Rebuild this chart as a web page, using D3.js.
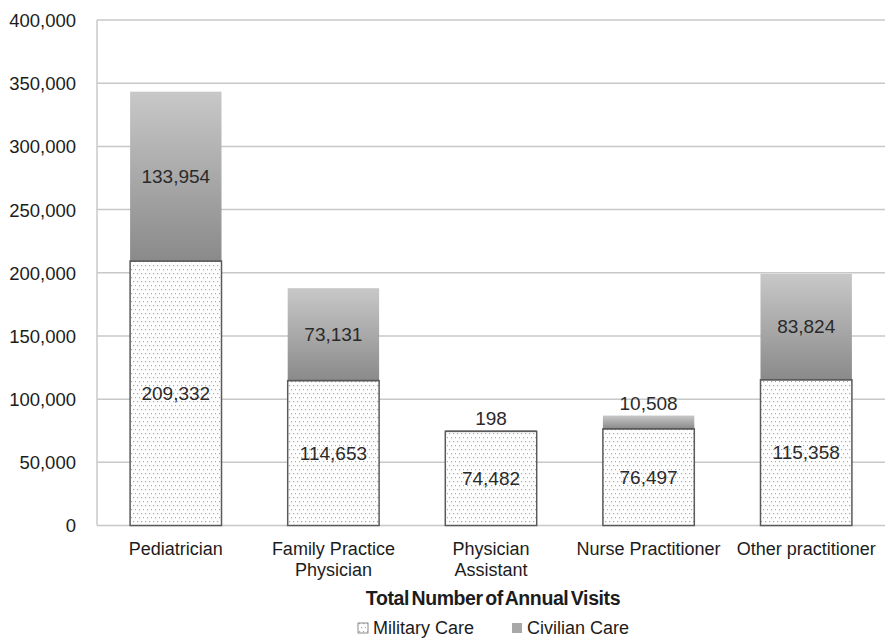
<!DOCTYPE html>
<html>
<head>
<meta charset="utf-8">
<script src="https://cdn.jsdelivr.net/npm/d3@7"></script>
<style>
  html, body { margin: 0; padding: 0; background: #fff; }
  svg { display: block; font-family: "Liberation Sans", Arial, sans-serif; }
</style>
</head>
<body>
<svg id="chart" width="885" height="640"></svg>
<script>
// Annual visits by provider type, split into military and civilian care
const categories = [
  ["Pediatrician"],
  ["Family Practice", "Physician"],
  ["Physician", "Assistant"],
  ["Nurse Practitioner"],
  ["Other practitioner"]
];
const militaryCare = [209332, 114653, 74482, 76497, 115358];
const civilianCare = [133954, 73131, 198, 10508, 83824];
const yTicks = [0, 50000, 100000, 150000, 200000, 250000, 300000, 350000, 400000];
const seriesNames = ["Military Care", "Civilian Care"];
const axisTitle = "Total Number of Annual Visits";

const svg = d3.select("#chart");
const margin = { left: 97, right: 0, top: 20, bottom: 114.5 };
const W = 885, H = 640;
const textColor = "#1c1c1c";

const defs = svg.append("defs");
// dotted fill for military segments
const pat = defs.append("pattern")
  .attr("id", "dots").attr("patternUnits", "userSpaceOnUse")
  .attr("width", 8).attr("height", 8);
pat.append("rect").attr("width", 8).attr("height", 8).attr("fill", "#fff");
[[1, 1], [5, 1], [3, 5], [7, 5]].forEach(([px, py]) =>
  pat.append("rect").attr("x", px).attr("y", py).attr("width", 1.2).attr("height", 1.2).attr("fill", "#a8a8a8"));

// vertical gradient for civilian segments
const grad = defs.append("linearGradient")
  .attr("id", "civ").attr("x1", 0).attr("y1", 0).attr("x2", 0).attr("y2", 1);
grad.append("stop").attr("offset", "0%").attr("stop-color", "#c8c8c8");
grad.append("stop").attr("offset", "100%").attr("stop-color", "#8a8a8a");

const x = d3.scaleBand()
  .domain(d3.range(categories.length))
  .range([margin.left, W - margin.right])
  .paddingInner(0.42).paddingOuter(0.21);

const y = d3.scaleLinear()
  .domain([0, 400000])
  .range([H - margin.bottom, margin.top]);

// gridlines
svg.append("g")
  .selectAll("line").data(yTicks).join("line")
  .attr("x1", margin.left).attr("x2", W)
  .attr("y1", d => y(d)).attr("y2", d => y(d))
  .attr("stroke", "#c8c8c8").attr("stroke-width", 1.5);

// left axis line
svg.append("line")
  .attr("x1", margin.left).attr("x2", margin.left)
  .attr("y1", y(400000)).attr("y2", y(0))
  .attr("stroke", "#c8c8c8").attr("stroke-width", 1.5);

// y axis labels
const yAxis = d3.axisLeft(y).tickValues(yTicks).tickSize(0).tickPadding(21)
  .tickFormat(d3.format(","));
const gy = svg.append("g").attr("transform", `translate(${margin.left},0)`).call(yAxis);
gy.select(".domain").remove();
gy.selectAll("text")
  .attr("font-family", "Liberation Sans, Arial, sans-serif")
  .attr("font-size", 18.5).attr("fill", textColor).attr("dy", "0.35em");

const bw = x.bandwidth();

// military segments
svg.append("g").selectAll("rect").data(militaryCare).join("rect")
  .attr("x", (d, i) => x(i)).attr("width", bw)
  .attr("y", d => y(d)).attr("height", d => y(0) - y(d))
  .attr("fill", "url(#dots)").attr("stroke", "#5a5a5a").attr("stroke-width", 1.5);

// civilian segments
svg.append("g").selectAll("rect").data(civilianCare).join("rect")
  .attr("x", (d, i) => x(i)).attr("width", bw)
  .attr("y", (d, i) => y(militaryCare[i] + d))
  .attr("height", (d, i) => y(militaryCare[i]) - y(militaryCare[i] + d))
  .attr("fill", "url(#civ)");

// redraw top edge of military segments over the civilian fill
svg.append("g").selectAll("line").data(militaryCare).join("line")
  .attr("x1", (d, i) => x(i)).attr("x2", (d, i) => x(i) + bw)
  .attr("y1", d => y(d)).attr("y2", d => y(d))
  .attr("stroke", "#5a5a5a").attr("stroke-width", 1.5);

const fmt = d3.format(",");
const labelFont = 19;

// value labels: military
svg.append("g").selectAll("text").data(militaryCare).join("text")
  .attr("x", (d, i) => x(i) + bw / 2)
  .attr("y", d => y(d / 2))
  .attr("dy", "0.35em").attr("text-anchor", "middle")
  .attr("font-size", labelFont).attr("fill", "#2a2a2a")
  .text(d => fmt(d));

// value labels: civilian (above the bar when the segment is too thin)
const thin = (d, i) => (y(militaryCare[i]) - y(militaryCare[i] + d)) < 24;
svg.append("g").selectAll("text").data(civilianCare).join("text")
  .attr("x", (d, i) => x(i) + bw / 2)
  .attr("y", (d, i) => thin(d, i) ? y(militaryCare[i] + d) - 6 : y(militaryCare[i] + d / 2))
  .attr("dy", (d, i) => thin(d, i) ? "0" : "0.35em")
  .attr("text-anchor", "middle")
  .attr("font-size", labelFont).attr("fill", "#2a2a2a")
  .text(d => fmt(d));

// category labels
const cat = svg.append("g").selectAll("text").data(categories).join("text")
  .attr("x", (d, i) => x(i) + bw / 2)
  .attr("y", 555)
  .attr("text-anchor", "middle")
  .attr("font-size", 18).attr("fill", textColor);
cat.selectAll("tspan").data(d => d).join("tspan")
  .attr("x", function () { return d3.select(this.parentNode).attr("x"); })
  .attr("dy", (d, j) => j === 0 ? 0 : 21)
  .text(d => d);

// axis title
svg.append("text")
  .attr("x", 493).attr("y", 605)
  .attr("text-anchor", "middle")
  .attr("font-size", 19.5).attr("font-weight", "bold").attr("fill", textColor)
  .attr("letter-spacing", -0.4)
  .attr("word-spacing", -2.5)
  .text(axisTitle);

// legend
const legend = svg.append("g");
const legendX = [358, 512];
const swatchFill = ["url(#dots)", "#a8a8a8"];
seriesNames.forEach((name, i) => {
  const g = legend.append("g").attr("transform", `translate(${legendX[i]},622)`);
  g.append("rect").attr("y", 1).attr("width", 10).attr("height", 10)
    .attr("fill", swatchFill[i])
    .attr("stroke", i === 0 ? "#8a8a8a" : "none").attr("stroke-width", 1);
  g.append("text").attr("x", 15).attr("y", 12)
    .attr("font-size", 18).attr("fill", textColor)
    .text(name);
});
</script>
</body>
</html>
